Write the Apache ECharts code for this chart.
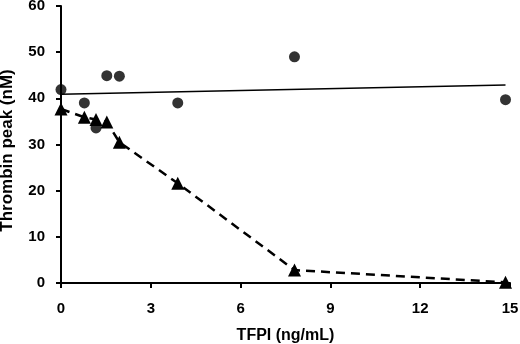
<!DOCTYPE html>
<html>
<head>
<meta charset="utf-8">
<script src="https://cdn.jsdelivr.net/npm/echarts@6/dist/echarts.min.js"></script>
<style>
  html, body { margin: 0; padding: 0; background: #fff; }
  #chart { width: 520px; height: 344px; }
</style>
</head>
<body>
<div id="chart"></div>
<script>
// TFPI concentrations (ng/mL)
var tfpi = [0, 0.78, 1.17, 1.53, 1.95, 3.9, 7.8, 14.85];
// circles: thrombin peak (nM)
var circlePeak = [41.9, 39.0, 33.6, 44.9, 44.8, 39.0, 49.0, 39.7];
// triangles: thrombin peak (nM)
var trianglePeak = [37.7, 35.9, 35.4, 34.9, 30.5, 21.6, 2.8, 0.15];
// regression line through circles
var fitX = [0, 14.85];
var fitY = [40.9, 42.9];

var xTicks = [0, 3, 6, 9, 12, 15];
var yTicks = [0, 10, 20, 30, 40, 50, 60];

function pairs(xs, ys) {
    var out = [];
    for (var i = 0; i < xs.length; i++) out.push([xs[i], ys[i]]);
    return out;
}

var font = 'Liberation Sans, Arial, sans-serif';
var chart = echarts.init(document.getElementById('chart'));
chart.setOption({
    animation: false,
    grid: { left: 61, right: 10, top: 6, bottom: 61, containLabel: false, outerBoundsMode: 'none' },
    xAxis: {
        type: 'value',
        min: xTicks[0],
        max: xTicks[xTicks.length - 1],
        interval: 3,
        name: 'TFPI (ng/mL)',
        nameLocation: 'middle',
        nameGap: 45,
        nameTextStyle: { fontFamily: font, fontWeight: 'bold', fontSize: 16, color: '#000' },
        axisLine: { lineStyle: { color: '#000', width: 2 } },
        axisTick: { show: true, length: 5, lineStyle: { color: '#000', width: 2 } },
        axisLabel: { fontFamily: font, fontWeight: 'bold', fontSize: 15, color: '#000', margin: 18 },
        splitLine: { show: false }
    },
    yAxis: {
        type: 'value',
        min: yTicks[0],
        max: yTicks[yTicks.length - 1],
        interval: 10,
        name: 'Thrombin peak (nM)',
        nameLocation: 'middle',
        nameGap: 45,
        nameTextStyle: { fontFamily: font, fontWeight: 'bold', fontSize: 17, color: '#000', padding: [0, 12, 0, 0] },
        axisLine: { show: true, lineStyle: { color: '#000', width: 2 } },
        axisTick: { show: true, length: 5, lineStyle: { color: '#000', width: 2 } },
        axisLabel: { fontFamily: font, fontWeight: 'bold', fontSize: 15, color: '#000', margin: 16 },
        splitLine: { show: false }
    },
    series: [
        {
            type: 'line',
            data: pairs(fitX, fitY),
            symbol: 'none',
            lineStyle: { color: '#000', width: 1.6 },
            z: 2
        },
        {
            type: 'line',
            data: pairs(tfpi, trianglePeak),
            symbol: 'triangle',
            symbolSize: 13,
            itemStyle: { color: '#000' },
            lineStyle: { color: '#000', width: 2.5, type: [9, 6] },
            z: 3
        },
        {
            type: 'scatter',
            data: pairs(tfpi, circlePeak),
            symbol: 'circle',
            symbolSize: 11,
            itemStyle: { color: '#000' },
            z: 4
        }
    ]
});
</script>
</body>
</html>
